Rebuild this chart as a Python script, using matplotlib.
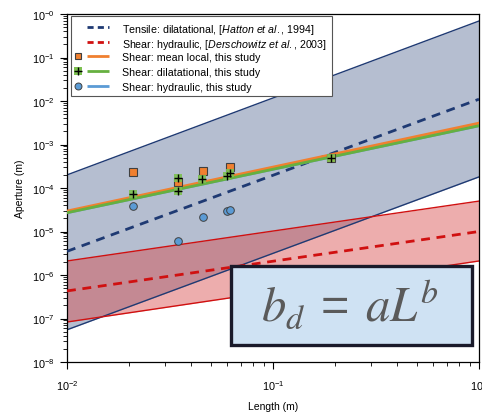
import numpy as np
import matplotlib
matplotlib.use("Agg")
import matplotlib.pyplot as plt
from matplotlib.patches import Rectangle
from matplotlib.ticker import FixedLocator, LogLocator, NullFormatter, FixedFormatter

plt.rcParams['font.family'] = ['Liberation Sans', 'DejaVu Sans']
plt.rcParams['mathtext.fontset'] = 'custom'
plt.rcParams['mathtext.rm'] = 'Liberation Sans'
plt.rcParams['mathtext.it'] = 'Liberation Sans:italic'
plt.rcParams['mathtext.bf'] = 'Liberation Sans:bold'
plt.rcParams['mathtext.default'] = 'regular'

# ---- data ----
L_ends = [0.01, 1.0]
tensile_upper = [2.0e-4, 0.69]
tensile_center = [3.5e-6, 0.011]
tensile_lower = [5.5e-8, 1.8e-4]
shear_h_upper = [2.1e-6, 5.0e-5]
shear_h_center = [4.3e-7, 1.0e-5]
shear_h_lower = [8.3e-8, 2.1e-6]
fit_mean_local = [2.95e-5, 3.1e-3]
fit_dilatational = [2.7e-5, 2.7e-3]
fit_hydraulic = [2.7e-5, 2.7e-3]

mean_L = [0.0209, 0.0347, 0.0459, 0.0618, 0.191]
mean_b = [2.3e-4, 1.4e-4, 2.45e-4, 3.0e-4, 5.0e-4]
dil_L = [0.0209, 0.0347, 0.0347, 0.0454, 0.0596, 0.0618, 0.191]
dil_b = [7.3e-5, 1.7e-4, 8.7e-5, 1.6e-4, 1.9e-4, 2.2e-4, 4.9e-4]
hyd_L = [0.0210, 0.0347, 0.0459, 0.0596, 0.0618]
hyd_b = [3.9e-5, 6.0e-6, 2.15e-5, 3.0e-5, 3.1e-5]

legend_labels = [
    r'Tensile: dilatational, [$\mathit{Hatton\ et\ al.}$, 1994]',
    r'Shear: hydraulic, [$\mathit{Derschowitz\ et\ al.}$, 2003]',
    'Shear: mean local, this study',
    'Shear: dilatational, this study',
    'Shear: hydraulic, this study',
]
y_decades = [-8, -7, -6, -5, -4, -3, -2, -1, 0]
y_ticklabels = [r'$10^{%d}$' % d if d != 0 else r'$10^{-0}$' for d in y_decades]
x_decades = [-2, -1, 0]
x_ticklabels = [r'$10^{%d}$' % d for d in x_decades]

# ---- colours ----
navy = '#1f3a73'
red = '#d01010'
orange = '#f08030'
green = '#66b040'
lgreen = '#7cc050'
lblue = '#5b9bd5'

W, H = 482, 414
fig = plt.figure(figsize=(W / 100, H / 100), dpi=100)
AX_L, AX_R, AX_T, AX_B = 67, 479, 15, 363
ax = fig.add_axes([AX_L / W, 1 - AX_B / H, (AX_R - AX_L) / W, (AX_B - AX_T) / H])
ax.set_xscale('log')
ax.set_yscale('log')
ax.set_xlim(1e-2, 1)
ax.set_ylim(1e-8, 1)


def ax_xy(px, py):
    """pixel position -> axes fraction (for layout only)"""
    return (px - AX_L) / (AX_R - AX_L), (AX_B - py) / (AX_B - AX_T)


# bands
ax.fill_between(L_ends, tensile_lower, tensile_upper, color=navy, alpha=0.33, lw=0, zorder=1)
ax.fill_between(L_ends, shear_h_lower, shear_h_upper, color='#d84a4a', alpha=0.45, lw=0, zorder=1.5)
ax.plot(L_ends, tensile_upper, color=navy, lw=1.0, zorder=2)
ax.plot(L_ends, tensile_lower, color=navy, lw=1.0, zorder=2)
ax.plot(L_ends, shear_h_upper, color=red, lw=1.0, zorder=2)
ax.plot(L_ends, shear_h_lower, color=red, lw=1.0, zorder=2)
ax.plot(L_ends, tensile_center, color=navy, lw=2.0, dashes=(3.2, 2.4), zorder=3)
ax.plot(L_ends, shear_h_center, color=red, lw=2.0, dashes=(3.2, 2.4), zorder=3)

# fits
ax.plot(L_ends, fit_hydraulic, color=lblue, lw=2.0, zorder=3)
ax.plot(L_ends, fit_mean_local, color=orange, lw=2.0, zorder=4)
ax.plot(L_ends, fit_dilatational, color=green, lw=2.0, zorder=4)

# points
ax.plot(mean_L, mean_b, ls='none', marker='s', ms=5.5, mfc=orange, mec='#404040', mew=0.8, zorder=5)
ax.plot(dil_L, dil_b, ls='none', marker='s', ms=6, mfc=lgreen, mec=lgreen, mew=0, alpha=0.9, zorder=6)
ax.plot(dil_L, dil_b, ls='none', marker='+', ms=6, mec='black', mew=1.0, zorder=7)
ax.plot(hyd_L, hyd_b, ls='none', marker='o', ms=5.5, mfc=lblue, mec='#404040', mew=0.7, zorder=5)

# ticks
ax.yaxis.set_major_locator(FixedLocator([10.0 ** d for d in y_decades]))
ax.yaxis.set_major_formatter(FixedFormatter(y_ticklabels))
ax.yaxis.set_minor_locator(LogLocator(base=10, subs=np.arange(2, 10), numticks=20))
ax.yaxis.set_minor_formatter(NullFormatter())
ax.xaxis.set_major_locator(FixedLocator([10.0 ** d for d in x_decades]))
ax.xaxis.set_major_formatter(FixedFormatter(x_ticklabels))
ax.xaxis.set_minor_locator(LogLocator(base=10, subs=np.arange(2, 10), numticks=20))
ax.xaxis.set_minor_formatter(NullFormatter())
ax.tick_params(which='major', direction='out', length=5, width=0.8, labelsize=7.8, pad=4)
ax.tick_params(which='minor', direction='out', length=3, width=0.6)
ax.tick_params(axis='x', which='major', pad=7)
for s in ax.spines.values():
    s.set_linewidth(0.9)

ax.set_xlabel('Length (m)', fontsize=7.5, labelpad=6)
ax.set_ylabel('Aperture (m)', fontsize=7.5, labelpad=5)

# ---- legend (drawn by hand for exact layout) ----
x0, y0 = ax_xy(71, 97)
x1, y1 = ax_xy(332, 17)
ax.add_patch(Rectangle((x0, y0), x1 - x0, y1 - y0, transform=ax.transAxes,
                       facecolor='white', edgecolor='#555555', lw=0.8, zorder=10))
rows_y = [28, 42.5, 57, 72, 87]
mk_x, ln_x0, ln_x1, tx_x = 78, 87, 109, 122
legend_styles = [
    dict(line=dict(color=navy, lw=2.0, dashes=(2.2, 1.5)), markers=[]),
    dict(line=dict(color=red, lw=2.0, dashes=(2.2, 1.5)), markers=[]),
    dict(line=dict(color=orange, lw=2.0),
         markers=[dict(marker='s', ms=5, mfc=orange, mec='#404040', mew=0.8)]),
    dict(line=dict(color=green, lw=2.0),
         markers=[dict(marker='s', ms=5.5, mfc=lgreen, mec=lgreen, mew=0),
                  dict(marker='+', ms=5.5, mec='black', mew=1.0)]),
    dict(line=dict(color=lblue, lw=2.0),
         markers=[dict(marker='o', ms=5, mfc=lblue, mec='#404040', mew=0.7)]),
]
for ry, st, lab in zip(rows_y, legend_styles, legend_labels):
    a, yy = ax_xy(ln_x0, ry)
    b, _ = ax_xy(ln_x1, ry)
    ax.plot([a, b], [yy, yy], transform=ax.transAxes, zorder=11, solid_capstyle='butt',
            **st['line'])
    mx, _ = ax_xy(mk_x, ry)
    for m in st['markers']:
        ax.plot([mx], [yy], ls='none', transform=ax.transAxes, zorder=12, **m)
    tx, _ = ax_xy(tx_x, ry)
    ax.text(tx, yy, lab, transform=ax.transAxes, ha='left', va='center_baseline',
            fontsize=7.7, zorder=12)

# ---- equation box ----
bx0, by0 = ax_xy(231, 346)
bx1, by1 = ax_xy(472, 267)
ax.add_patch(Rectangle((bx0, by0), bx1 - bx0, by1 - by0, transform=ax.transAxes,
                       facecolor='#cfe2f3', edgecolor='#1a1a2a', lw=2.4, zorder=11))
ex, ey = ax_xy(350, 304)
ax.text(ex, ey, r'$\mathit{b}_{\mathit{d}}\;=\;\mathit{aL}^{\mathit{b}}$', transform=ax.transAxes,
        ha='center', va='center', fontsize=35, color='#5a5a5a', math_fontfamily='stix', zorder=12)

fig.savefig('out.png', dpi=100)
